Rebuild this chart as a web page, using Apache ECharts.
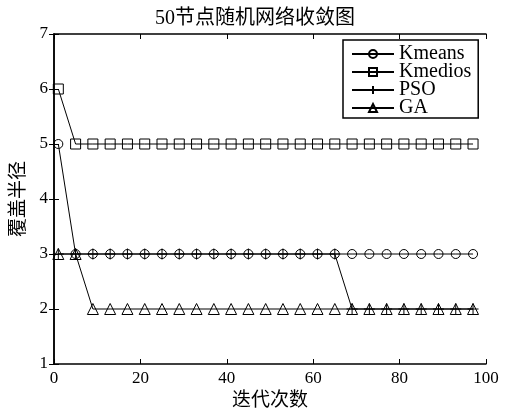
<!DOCTYPE html>
<html><head><meta charset="utf-8">
<script src="https://cdn.jsdelivr.net/npm/echarts@6/dist/echarts.min.js"></script>
<style>html,body{margin:0;padding:0;background:#fff}#c{width:515px;height:412px}</style>
</head><body><div id="c"></div>
<script>
const titleText = '50节点随机网络收敛图';
const xName = '迭代次数';
const yName = '覆盖半径';
const seriesNames = ['Kmeans','Kmedios','PSO','GA'];
const iterations = [1,5,9,13,17,21,25,29,33,37,41,45,49,53,57,61,65,69,73,77,81,85,89,93,97];
const kmeans  = [5,3,3,3,3,3,3,3,3,3,3,3,3,3,3,3,3,3,3,3,3,3,3,3,3];
const kmedios = [6,5,5,5,5,5,5,5,5,5,5,5,5,5,5,5,5,5,5,5,5,5,5,5,5];
const pso     = [3,3,3,3,3,3,3,3,3,3,3,3,3,3,3,3,3,2,2,2,2,2,2,2,2];
const ga      = [3,3,2,2,2,2,2,2,2,2,2,2,2,2,2,2,2,2,2,2,2,2,2,2,2];
const xTicks = [0,20,40,60,80,100];
const yTicks = [1,2,3,4,5,6,7];

const serif = '"Liberation Serif","DejaVu Serif","Noto Sans CJK SC",serif';
const plusPath = 'path://M0,5L10,5M5,0L5,10';
function pairs(v){ return iterations.map((x,i)=>[x,v[i]]); }
function mk(name, vals, symbol, size){
  return {name, type:'line', data:pairs(vals), symbol, symbolSize:size, showSymbol:true,
    lineStyle:{color:'#000', width:1}, itemStyle:{color:'rgba(0,0,0,0)', borderColor:'#000', borderWidth:1},
    emphasis:{disabled:true}, animation:false, z:3};
}
const chart = echarts.init(document.getElementById('c'));
const axisCommon = {
  axisLine:{show:true, lineStyle:{color:'#000', width:1.5}},
  axisTick:{show:true, inside:true, length:5, lineStyle:{color:'#000', width:1}},
  splitLine:{show:false}
};
chart.setOption({
  backgroundColor:'#fff',
  animation:false,
  title:{text:titleText, left:150, top:4, textStyle:{fontFamily:serif, fontSize:20, fontWeight:'normal', color:'#000'}},
  grid:{left:54, right:29, top:34, bottom:48, outerBoundsMode:'none', containLabel:false},
  legend:{
    left:343, top:40, orient:'vertical', itemWidth:42, itemHeight:10, itemGap:-2,
    padding:[4,7,0,8], borderColor:'#000', borderWidth:1.5, backgroundColor:'#fff', z:10,
    textStyle:{fontFamily:serif, fontSize:20, color:'#000'},
    data:seriesNames
  },
  xAxis:[
    Object.assign({type:'value', min:0, max:100, interval:20, position:'bottom',
      name:xName, nameLocation:'middle', nameGap:25,
      nameTextStyle:{fontFamily:serif, fontSize:19, color:'#000', verticalAlign:'top'},
      axisLabel:{fontFamily:serif, fontSize:17, color:'#000', margin:6}}, axisCommon),
    Object.assign({type:'value', min:0, max:100, interval:20, position:'top', axisLabel:{show:false}}, axisCommon)
  ],
  yAxis:[
    Object.assign({type:'value', min:1, max:7, interval:1, position:'left',
      name:yName, nameLocation:'middle', nameGap:23,
      nameTextStyle:{fontFamily:serif, fontSize:19, color:'#000'},
      axisLabel:{fontFamily:serif, fontSize:17, color:'#000', margin:6}}, axisCommon),
    Object.assign({type:'value', min:1, max:7, interval:1, position:'right', axisLabel:{show:false}}, axisCommon)
  ],
  series:[
    mk(seriesNames[0], kmeans, 'circle', 9),
    mk(seriesNames[1], kmedios, 'rect', 10),
    mk(seriesNames[2], pso, plusPath, 11),
    mk(seriesNames[3], ga, 'triangle', 11)
  ]
});
</script></body></html>
